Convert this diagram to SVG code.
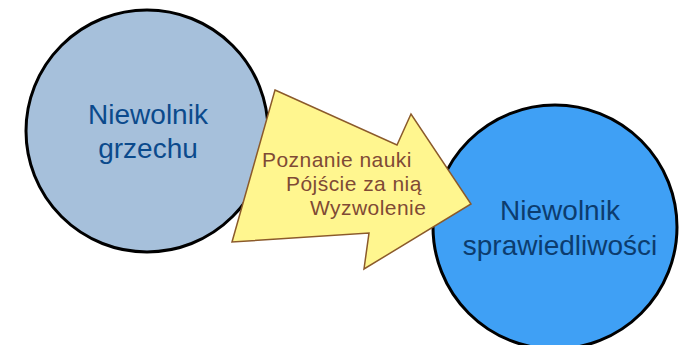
<svg xmlns="http://www.w3.org/2000/svg" width="687" height="345" viewBox="0 0 687 345">
<style>
.c{stroke:#000;stroke-width:3}
.ct{font-family:"Liberation Sans",Arial,sans-serif;font-size:28px;text-anchor:middle}
.at{font-family:"Liberation Sans",Arial,sans-serif;font-size:21px;letter-spacing:0.45px;fill:#7f4a35}
</style>
<rect width="687" height="345" fill="#fff"/>
<g id="node-grzechu">
<circle class="c" cx="147" cy="131" r="121" fill="#a6c0db"/>
<text class="ct" fill="#0b4a8c"><tspan x="148" y="124">Niewolnik</tspan><tspan x="148" y="158">grzechu</tspan></text>
</g>
<g id="node-sprawiedliwosci">
<circle class="c" cx="555" cy="227" r="122" fill="#3fa0f5"/>
<text class="ct" fill="#0c3c6e"><tspan x="560" y="220">Niewolnik</tspan><tspan x="560" y="255">sprawiedliwości</tspan></text>
</g>
<g id="connectors">
<polygon points="275,90 397,145 411,114 471,204 364,269 369,233 232,242" fill="#fff68f" stroke="#8b5a2b" stroke-width="1.5" stroke-linejoin="miter"/>
<text class="at"><tspan x="262" y="166.5">Poznanie nauki</tspan><tspan x="286" y="190.5">Pójście za nią</tspan><tspan x="310" y="214.5">Wyzwolenie</tspan></text>
</g>
</svg>
